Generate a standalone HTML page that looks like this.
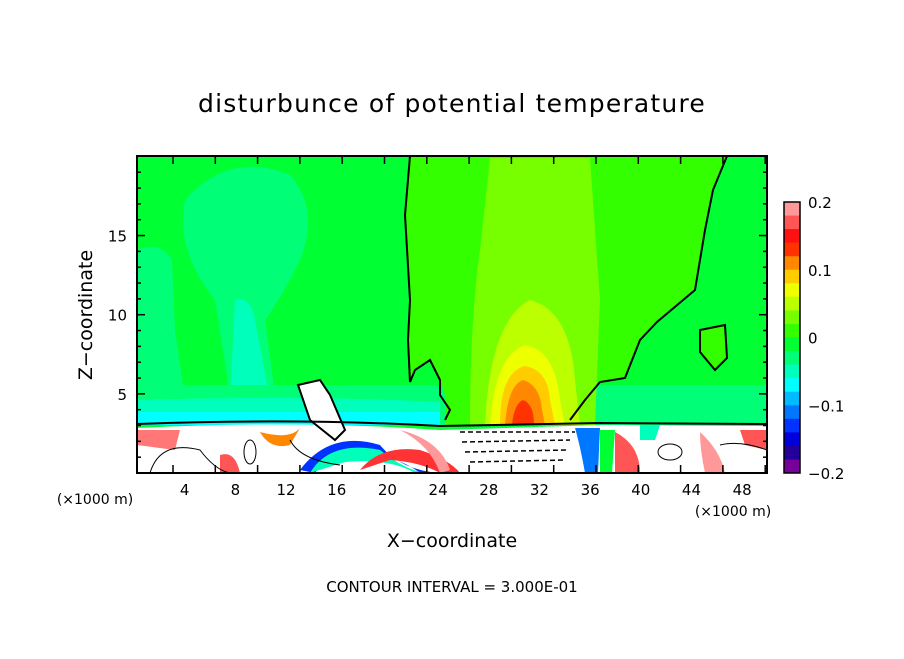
<!DOCTYPE html>
<html><head><meta charset="utf-8"><style>
body{margin:0;background:#fff;width:904px;height:654px;overflow:hidden}
svg text{font-family:"DejaVu Sans","Liberation Sans",sans-serif;fill:#000}
</style></head><body>
<svg id="chart" width="904" height="654" viewBox="0 0 904 654">
<text x="452" y="112" font-size="25" text-anchor="middle" letter-spacing="1.2">disturbunce of potential temperature</text>
<defs><clipPath id="pc"><rect x="137" y="156" width="630" height="317"/></clipPath></defs>
<g clip-path="url(#pc)">
<rect x="137" y="156" width="630" height="317" fill="#00ff33"/>
<path d="M185,200 Q230,150 290,175 Q320,210 300,260 Q280,300 265,320 L275,395 L230,395 L215,300 Q175,250 185,200Z" fill="#00ff77"/>
<path d="M137,250 Q160,240 172,260 L175,330 L185,400 L137,400Z" fill="#00ff77"/>
<path d="M235,300 Q250,295 255,320 L270,400 L230,400Z" fill="#00ffbb"/>
<path d="M137,385 L767,385 L767,425 L137,425Z" fill="#00ff77"/>
<path d="M137,400 Q300,395 440,402 L440,425 L137,425Z" fill="#00ffbb"/>
<path d="M137,412 L440,412 L440,425 L137,425Z" fill="#00ffff"/>
<path d="M410,156 L727,156 L713,190 L705,230 L695,290 L657,322 L640,340 L625,378 L600,382 L585,400 L570,425 L445,425 L445,395 L440,380 L430,360 L415,370 L410,382 L408,340 L410,300 L405,215Z" fill="#33ff00"/>
<path d="M490,158 L590,158 Q595,230 600,300 L595,425 L470,425 Q470,320 480,250Z" fill="#77ff00"/>
<path d="M530,300 Q570,310 575,380 L580,425 L485,425 Q490,320 530,300Z" fill="#bbff00"/>
<path d="M525,345 Q555,350 560,400 L565,425 L490,425 Q495,355 525,345Z" fill="#eeff00"/>
<path d="M525,366 Q548,370 550,400 L555,425 L500,425 Q500,372 525,366Z" fill="#ffcc00"/>
<path d="M523,380 Q540,385 542,410 L545,425 L505,425 Q508,385 523,380Z" fill="#ff8800"/>
<path d="M523,400 Q534,404 534,425 L512,425 Q514,404 523,400Z" fill="#ff3300"/>
<path d="M700,330 L725,325 L727,358 L715,370 L700,352Z" fill="#33ff00"/>
<path d="M137,428 Q300,420 440,430 L600,425 L767,426 L767,473 L137,473Z" fill="#fff"/>
<path d="M137,430 L180,430 L175,450 L137,445Z" fill="#ff7777"/>
<path d="M300,470 Q330,430 380,445 Q400,470 440,473 L420,473 Q390,450 340,455 Q320,465 315,473Z" fill="#0033ff"/>
<path d="M310,473 Q330,440 380,450 Q405,470 425,473 L415,473 Q390,458 345,462Z" fill="#00ffbb"/>
<path d="M360,470 Q380,445 420,450 Q450,460 460,473 L440,473 Q420,462 390,460Z" fill="#ff3333"/>
<path d="M575,428 L600,428 L598,473 L585,473 Q580,445 575,428Z" fill="#0077ff"/>
<path d="M600,430 L615,430 L612,473 L600,473Z" fill="#00ff33"/>
<path d="M615,432 Q640,445 640,473 L615,473Z" fill="#ff5555"/>
<path d="M220,455 Q235,450 240,473 L220,473Z" fill="#ff5555"/>
<path d="M260,432 Q290,440 300,428 L290,445 Q270,450 260,432Z" fill="#ff8800"/>
<path d="M700,432 Q720,450 725,473 L705,473 Q700,450 700,432Z" fill="#ff9999"/>
<path d="M740,430 L767,430 L767,450 L745,445Z" fill="#ff5555"/>
<path d="M400,430 Q440,440 450,470 L440,473 Q430,445 400,430Z" fill="#ff9999"/>
<path d="M640,425 L660,425 L655,440 L640,440Z" fill="#00ffbb"/>
<path d="M298,385 L320,380 L330,395 L345,430 L335,440 L310,420Z" fill="#fff"/>
<g fill="none" stroke="#000" stroke-width="2">
<path d="M410,156 L405,215 L410,300 L408,340 L410,382 L415,370 L430,360 L440,380 L440,395 L450,410 L445,420"/>
<path d="M727,156 L713,190 L705,230 L695,290 L657,322 L640,340 L625,378 L600,382 L585,400 L570,420"/>
<path d="M700,330 L725,325 L727,358 L715,370 L700,352Z"/>
<path d="M137,424 Q300,418 440,426 L600,423 L767,424"/>
<path d="M298,385 L320,380 L330,395 L345,430 L335,440 L310,420Z"/>
</g>
<g fill="none" stroke="#000" stroke-width="1">
<ellipse cx="250" cy="452" rx="6" ry="12"/><ellipse cx="670" cy="452" rx="12" ry="8"/>
<path d="M150,473 Q160,440 200,450 Q215,470 230,473"/>
<path d="M290,440 Q300,460 340,465"/><path d="M720,445 Q740,440 767,450"/>
</g>
<g stroke="#000" stroke-width="1.5" stroke-dasharray="5 3" fill="none">
<path d="M460,432 L575,432"/><path d="M462,442 L570,440"/><path d="M465,452 L568,450"/><path d="M470,462 L565,460"/>
</g>
</g>
<rect x="137" y="156" width="630" height="317" fill="none" stroke="#000" stroke-width="2"/>
<g id="axes"></g>
<text x="452" y="547" font-size="19" text-anchor="middle">X−coordinate</text>
<text transform="translate(92,315) rotate(-90)" font-size="19" text-anchor="middle">Z−coordinate</text>
<text x="95" y="504" font-size="14" text-anchor="middle">(×1000 m)</text>
<text x="733" y="516" font-size="14" text-anchor="middle">(×1000 m)</text>
<text x="452" y="592" font-size="15" text-anchor="middle">CONTOUR INTERVAL = 3.000E-01</text>
<g id="cbar"></g>
</svg>
<script>
const xTickLabels=[4,8,12,16,20,24,28,32,36,40,44,48];
const yTickLabels=[5,10,15];
const cbarColors=["#ff9999","#ff5555","#ff1111","#ff3300","#ff8800","#ffcc00","#eeff00","#bbff00","#77ff00","#33ff00","#00ff33","#00ff77","#00ffbb","#00ffff","#00bbff","#0077ff","#0033ff","#0000dd","#220099","#770099"];
const cbarLabels=[0.2,0.1,0,-0.1,-0.2];
const NS="http://www.w3.org/2000/svg";
const X=v=>134+12.67*v, Y=z=>473-15.83*z;
const ax=document.getElementById('axes');
function mk(t,a,p){const e=document.createElementNS(NS,t);for(const k in a)e.setAttribute(k,a[k]);p.appendChild(e);return e;}
for(let i=0;i<15;i++){const x=173+42.3*i;if(x>767)break;
 const t1=mk('line',{x1:x,y1:473,x2:x,y2:465,stroke:'#000','stroke-width':1.5},ax);
 
 
 const t2=mk('line',{x1:x,y1:156,x2:x,y2:164,stroke:'#000','stroke-width':1.5},ax);
 
 }
xTickLabels.forEach(v=>{const t=mk('text',{x:X(v),y:495,'font-size':15,'text-anchor':'middle'},ax);t.textContent=v;
 
 });
for(let z=1;z<=19;z++){const maj=z%5==0,len=maj?8:4;
 const l=mk('line',{x1:137,y1:Y(z),x2:137+len,y2:Y(z),stroke:'#000','stroke-width':1.5},ax);
 
 
 const r=mk('line',{x1:767,y1:Y(z),x2:767-len,y2:Y(z),stroke:'#000','stroke-width':1.5},ax);
 
 }
yTickLabels.forEach(v=>{const t=mk('text',{x:127,y:Y(v)+6,'font-size':15,'text-anchor':'end'},ax);t.textContent=v;
 
 });
const cb=document.getElementById('cbar');const cbTop=202,cbBot=473,cbH=(cbBot-cbTop)/cbarColors.length;
cbarColors.forEach((c,i)=>{const r=mk('rect',{x:784,y:cbTop+i*cbH,width:16,height:cbH+0.5,fill:c},cb);
 
 });
const fr=mk('rect',{x:784,y:cbTop,width:16,height:cbBot-cbTop,fill:'none',stroke:'#000','stroke-width':1.5},cb);


cbarLabels.forEach((v,i)=>{const y=cbTop+(cbBot-cbTop)*i/(cbarLabels.length-1);
 const t=mk('text',{x:808,y:y+6,'font-size':15},cb);t.textContent=String(v).replace('-','−');
 
 });
</script>
</body></html>
